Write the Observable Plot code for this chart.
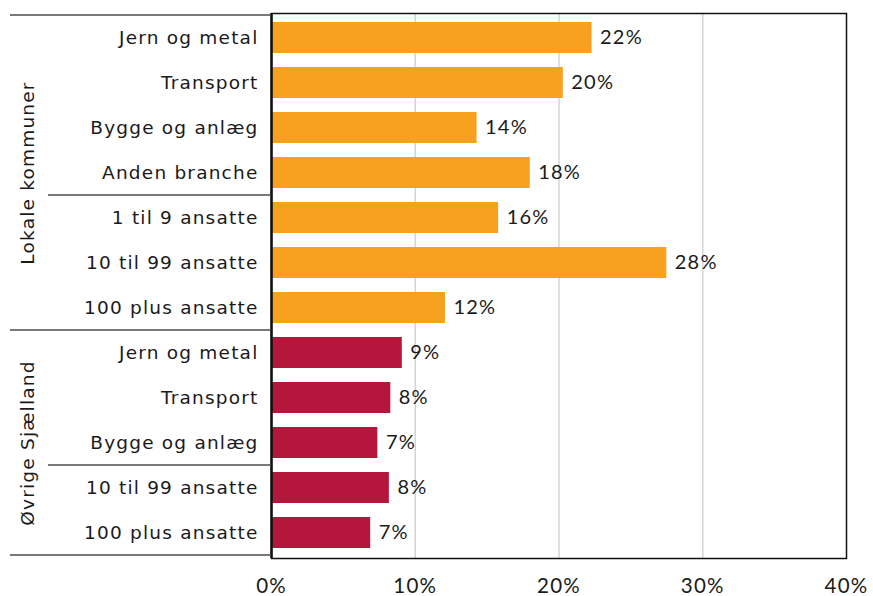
<!DOCTYPE html>
<html><head><meta charset="utf-8">
<script src="https://cdn.jsdelivr.net/npm/d3@7"></script>
<script src="https://cdn.jsdelivr.net/npm/@observablehq/plot@0.6"></script>
<style>body{margin:0;background:#fff}</style>
</head><body><div id="chart"></div>
<script>
const groupNames = ["Lokale kommuner", "Øvrige Sjælland"];
const rowGroup = [0, 0, 0, 0, 0, 0, 0, 1, 1, 1, 1, 1];
const categories = ["Jern og metal", "Transport", "Bygge og anlæg", "Anden branche", "1 til 9 ansatte", "10 til 99 ansatte", "100 plus ansatte",
                    "Jern og metal", "Transport", "Bygge og anlæg", "10 til 99 ansatte", "100 plus ansatte"];
const values = [22.3, 20.3, 14.3, 18.0, 15.8, 27.5, 12.1, 9.1, 8.3, 7.4, 8.2, 6.9];
const valueLabels = ["22%", "20%", "14%", "18%", "16%", "28%", "12%", "9%", "8%", "7%", "8%", "7%"];
const xTicks = [0, 10, 20, 30, 40];
const groupColors = ["#F7A11E", "#B5173C"];
const groupMiddleRow = [3, 9];
const groupBreakRows = [6];
const subBreakRows = [3, 9];

const rows = categories.map((c, i) => ({id: String(i), label: c, value: values[i], text: valueLabels[i], group: groupNames[rowGroup[i]]}));
const ids = rows.map(d => d.id);
const groupLabels = groupNames.map((g, i) => ({id: String(groupMiddleRow[i]), name: g}));

(function () {
  const chart = Plot.plot({
    width: 873, height: 596,
    marginLeft: 271, marginRight: 27, marginTop: 13, marginBottom: 38,
    style: {fontFamily: "DejaVu Sans", fontSize: "18px", color: "#1a1a1a", background: "#fff", overflow: "visible"},
    x: {domain: [0, 40], label: null},
    y: {domain: ids, paddingInner: 0.3, paddingOuter: 0.15, label: null},
    color: {domain: groupNames, range: groupColors},
    marks: [
      Plot.gridX(xTicks.slice(1, -1), {stroke: "#d4d4d4", strokeOpacity: 1, strokeWidth: 1.5}),
      Plot.barX(rows, {x: "value", y: "id", fill: "group"}),
      Plot.text(rows, {x: "value", y: "id", text: "text", textAnchor: "start", dx: 8, fontFamily: "Lato", fontSize: 20, fill: "#1a1a1a", className: "vlab"}),
      Plot.axisY(ids, {tickSize: 0, tickPadding: 13, fontSize: 18.5, fontFamily: "DejaVu Sans", tickFormat: id => categories[+id], label: null, className: "ylab"}),
      Plot.axisX(xTicks, {tickSize: 0, tickPadding: 20, fontFamily: "Lato", fontSize: 20.5, tickFormat: d => d + "%", label: null, className: "xlab"}),
      Plot.text(groupLabels, {y: "id", text: "name", rotate: -90, frameAnchor: "left", textAnchor: "middle", dx: -243, fontSize: 18.5, fontFamily: "DejaVu Sans", fill: "#1a1a1a", className: "glab"}),
      Plot.frame({stroke: "#111", strokeWidth: 1.5}),
      Plot.ruleX([0], {stroke: "#111", strokeWidth: 2.5})
    ]
  });

  const svg = d3.select(chart);
  svg.selectAll(".ylab text, .glab text").style("letter-spacing", "1.2px");
  svg.selectAll(".vlab text, .xlab text").style("letter-spacing", "1.2px");

  // left-margin separators, placed from the y band scale
  const ys = chart.scale("y");
  const gap = ys.step - ys.bandwidth;
  const edgeAfter = i => ys.apply(ids[i]) + ys.bandwidth + gap / 2;
  const firstEdge = ys.apply(ids[0]) - gap / 2;
  const axisLeft = 271;
  const lines = [
    {y: firstEdge, x1: 10},
    {y: edgeAfter(ids.length - 1), x1: 10},
    ...groupBreakRows.map(i => ({y: edgeAfter(i), x1: 10})),
    ...subBreakRows.map(i => ({y: edgeAfter(i), x1: 48}))
  ];
  const g = svg.append("g").attr("stroke", "#4d4d4d").attr("stroke-width", 1.5);
  for (const l of lines) {
    g.append("line").attr("x1", l.x1).attr("x2", axisLeft).attr("y1", l.y).attr("y2", l.y);
  }
  document.getElementById("chart").appendChild(chart);
})();
</script>
</body></html>
